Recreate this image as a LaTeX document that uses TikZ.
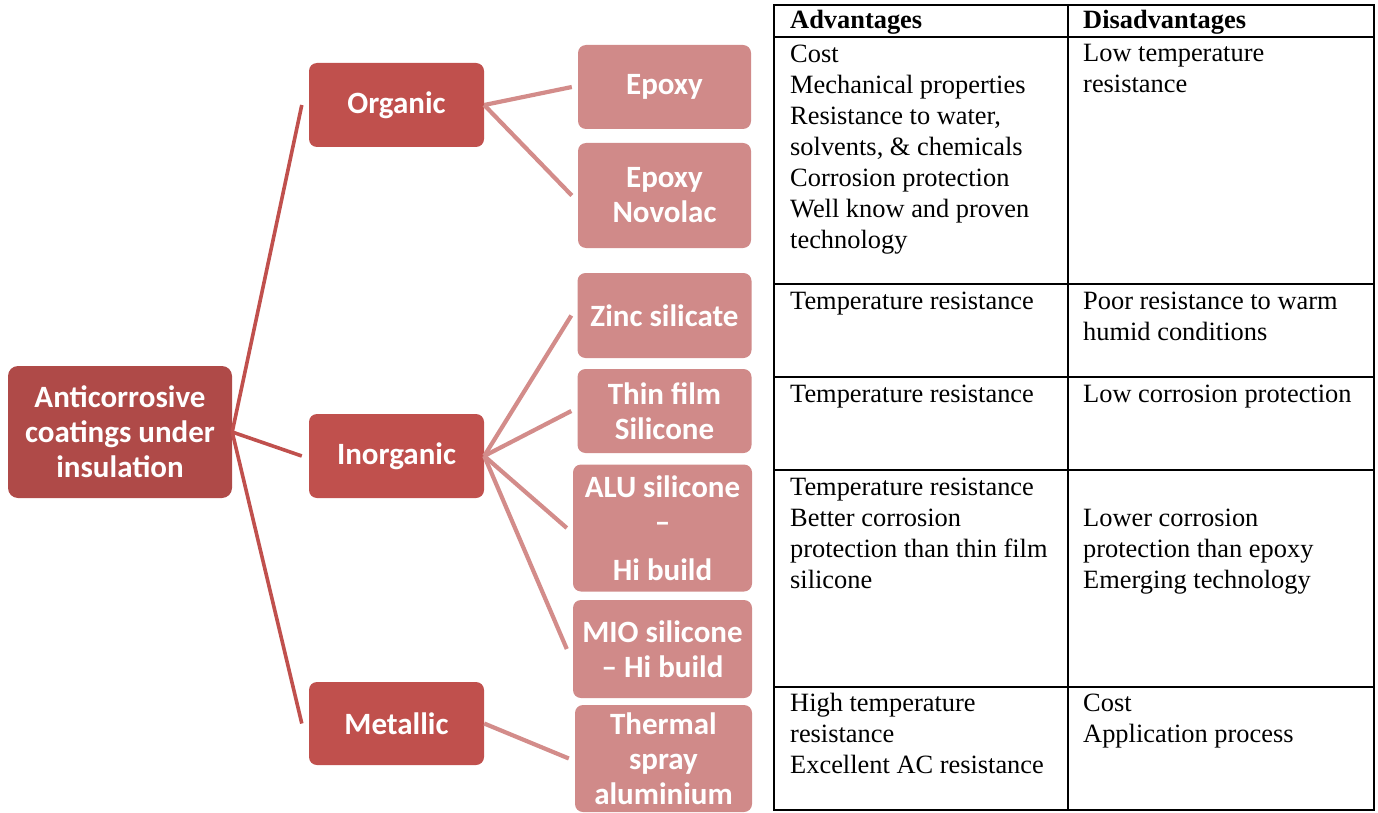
\documentclass[tikz,border=0pt]{standalone}
\usepackage{fontspec}
\setmainfont{Liberation Serif}
\newfontfamily\calib{Carlito}
\usepackage{tikz}
\usetikzlibrary{positioning}
\definecolor{rt}{HTML}{AF4A48}
\definecolor{lv}{HTML}{C0504D}
\definecolor{lf}{HTML}{D08A89}
\definecolor{lk}{HTML}{D38C8A}
\newcommand{\tabfont}{\fontsize{26.4}{31}\selectfont}
\newcommand{\boxfont}{\calib\bfseries\fontsize{31}{35}\selectfont}
\tikzset{bx/.style={rectangle, rounded corners=8pt, fill=#1, text=white, align=center,
            font=\boxfont, inner sep=0pt},
         rootln/.style={draw=lv, line width=3.6pt},
         leafln/.style={draw=lk, line width=4.2pt},
         cell/.style={anchor=base west, align=left, inner sep=0pt, font=\tabfont},
         grid/.style={draw=black, line width=2.2pt}}

\begin{document}
\begin{tikzpicture}[x=1pt, y=-1pt]
\useasboundingbox (0,0) rectangle (1378,813);
% tree
\node[bx=rt, rounded corners=10pt, minimum width=224pt, minimum height=132pt] (anti) at (120,432)
    {Anticorrosive\\coatings under\\insulation};
\node[bx=lv, minimum width=175pt, minimum height=84pt] (org) at (396.5,105) {Organic};
\node[bx=lv, minimum width=175pt, minimum height=84pt] (inorg) at (396.5,456) {Inorganic};
\node[bx=lv, minimum width=175pt, minimum height=83pt] (metal) at (396.5,723.5) {Metallic};

\node[bx=lf, minimum width=173pt, minimum height=84pt] (epoxy) at (664.5,87) {Epoxy};
\node[bx=lf, minimum width=173pt, minimum height=105pt] (novo) at (664.5,195.5) {Epoxy\\Novolac};
\node[bx=lf, minimum width=174pt, minimum height=85pt] (zinc) at (664.5,315.5) {Zinc silicate};
\node[bx=lf, minimum width=174pt, minimum height=84pt] (thin) at (664.5,411) {Thin film\\Silicone};
\node[bx=lf, minimum width=179pt, minimum height=127pt] (alu) at (662.5,528)
    {ALU silicone\\–\\[13pt]Hi build};
\node[bx=lf, minimum width=179pt, minimum height=98pt] (mio) at (662.5,649) {MIO silicone\\– Hi build};
\node[bx=lf, minimum width=177pt, minimum height=107pt] (therm) at (663.5,758.5)
    {Thermal\\spray\\aluminium};

\draw[rootln] (anti.east) -- ([xshift=-7pt]org.west);
\draw[rootln] (anti.east) -- ([xshift=-7pt]inorg.west);
\draw[rootln] (anti.east) -- ([xshift=-7pt]metal.west);
\draw[leafln] (org.east) -- ([xshift=-6pt]epoxy.west);
\draw[leafln] (org.east) -- ([xshift=-6pt]novo.west);
\draw[leafln] (inorg.east) -- ([xshift=-6pt]zinc.west);
\draw[leafln] (inorg.east) -- ([xshift=-6pt]thin.west);
\draw[leafln] (inorg.east) -- ([xshift=-6pt]alu.west);
\draw[leafln] (inorg.east) -- ([xshift=-6pt]mio.west);
\draw[leafln] (metal.east) -- ([xshift=-6pt]therm.west);

% table (cells anchored at the baseline of their last line)
\draw[grid] (774,5) rectangle (1374,810);
\foreach \y in {37,284,377,470,687}
  \draw[grid] (774,\y) -- (1374,\y);
\draw[grid] (1068,5) -- (1068,810);

\node[cell, font=\tabfont\bfseries] (hadv) at (790,29) {Advantages};
\node[cell, font=\tabfont\bfseries] (hdis) at (1083,29) {Disadvantages};

\node[cell] (adv1) at (790,248) {Cost\\Mechanical properties\\Resistance to water,\\solvents, \& chemicals\\Corrosion protection\\Well know and proven\\technology};
\node[cell] (dis1) at (1083,93) {Low temperature\\resistance};
\node[cell] (adv2) at (790,309) {Temperature resistance};
\node[cell] (dis2) at (1083,340) {Poor resistance to warm\\humid conditions};
\node[cell] (adv3) at (790,402) {Temperature resistance};
\node[cell] (dis3) at (1083,402) {Low corrosion protection};
\node[cell] (adv4) at (790,588) {Temperature resistance\\Better corrosion\\protection than thin film\\silicone};
\node[cell] (dis4) at (1083,588) {Lower corrosion\\protection than epoxy\\Emerging technology};
\node[cell] (adv5) at (790,773) {High temperature\\resistance\\Excellent AC resistance};
\node[cell] (dis5) at (1083,742) {Cost\\Application process};
\end{tikzpicture}
\end{document}
